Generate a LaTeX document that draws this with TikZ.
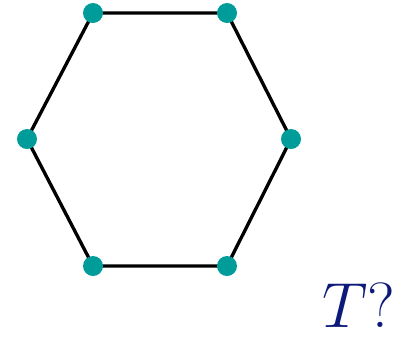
\documentclass[tikz,border=0pt]{standalone}
\usepackage{amsmath,amssymb}
\usepackage{xcolor}
\usepackage{tikz}
\usetikzlibrary{calc}
\definecolor{dotc}{HTML}{009C9A}
\definecolor{labc}{HTML}{0D1A7A}
\tikzset{
  edge/.style={black,line width=1.9pt},
  vx/.style={circle,fill=dotc,minimum size=4mm,inner sep=0pt}
}
\begin{document}
\begin{tikzpicture}[x=0.02cm,y=-0.02cm]
\useasboundingbox (0,0) rectangle (408,336);
% hexagon corners
\coordinate (p1) at (93,13);
\coordinate (p2) at (227,13);
\coordinate (p3) at (291,139);
\coordinate (p4) at (227,266);
\coordinate (p5) at (93,266);
\coordinate (p6) at (27,139);
\draw[edge] (p1)--(p2)--(p3)--(p4)--(p5)--(p6)--cycle;
\foreach \i in {1,...,6}{\node[vx] (v\i) at (p\i) {};}
\node[labc,font=\huge,scale=1.75,transform shape,inner sep=0pt,anchor=base] (lab) at (359,327) {$T?$};
\end{tikzpicture}
\end{document}
